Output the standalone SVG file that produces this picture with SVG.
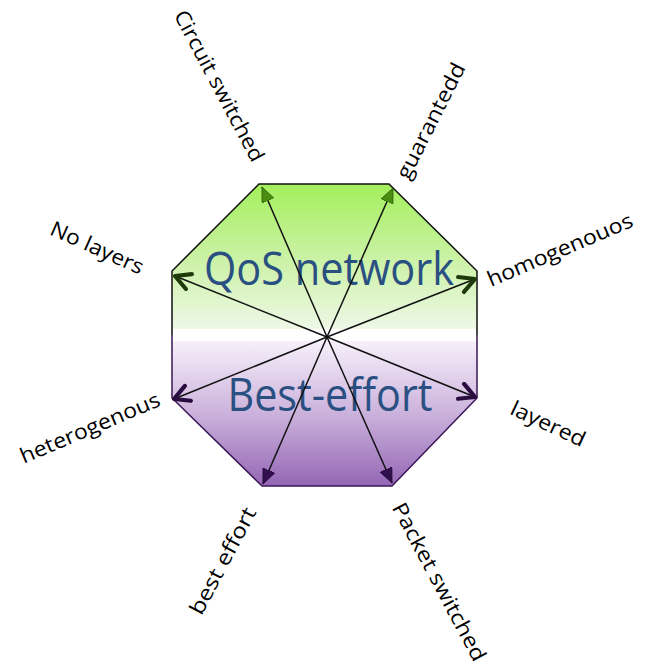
<svg xmlns="http://www.w3.org/2000/svg" width="648" height="666" viewBox="0 0 648 666">
  <style>
    .lbl { font-family: "Open Sans", "Liberation Sans", sans-serif; font-size: 21px; fill: #000; text-anchor: middle; }
    .big { font-family: "Open Sans", "Liberation Sans", sans-serif; font-size: 45px; fill: #2a5082; text-anchor: middle; }
    .ray { stroke: #111; stroke-width: 1.5; fill: none; }
  </style>
  <defs>
    <linearGradient id="gTop" x1="0" y1="184" x2="0" y2="329" gradientUnits="userSpaceOnUse">
      <stop offset="0" stop-color="#a4ef5c"/>
      <stop offset="0.55" stop-color="#cdf2aa"/>
      <stop offset="1" stop-color="#eef8e6"/>
    </linearGradient>
    <linearGradient id="gBot" x1="0" y1="341" x2="0" y2="486" gradientUnits="userSpaceOnUse">
      <stop offset="0" stop-color="#f7f0fa"/>
      <stop offset="0.5" stop-color="#cbb2dc"/>
      <stop offset="1" stop-color="#9466b4"/>
    </linearGradient>
    <marker id="triG" markerUnits="userSpaceOnUse" markerWidth="18" markerHeight="14" refX="15" refY="6.5" orient="auto">
      <path d="M0,0 L15,6.5 L0,13 z" fill="#4a8c12" stroke="#2f5e08" stroke-width="0.8"/>
    </marker>
    <marker id="triP" markerUnits="userSpaceOnUse" markerWidth="18" markerHeight="14" refX="15" refY="6.5" orient="auto">
      <path d="M0,0 L15,6.5 L0,13 z" fill="#32104e" stroke="#220838" stroke-width="0.8"/>
    </marker>
    <marker id="chevG" markerUnits="userSpaceOnUse" markerWidth="22" markerHeight="22" refX="18" refY="10" orient="auto">
      <path d="M3,2 L18,10 L3,18" fill="none" stroke="#1e3a0a" stroke-width="4.2" stroke-linecap="round" stroke-linejoin="round"/>
    </marker>
    <marker id="chevP" markerUnits="userSpaceOnUse" markerWidth="22" markerHeight="22" refX="18" refY="10" orient="auto">
      <path d="M3,2 L18,10 L3,18" fill="none" stroke="#2a0c40" stroke-width="4.2" stroke-linecap="round" stroke-linejoin="round"/>
    </marker>
  </defs>

  <!-- octagon body: green upper half, white band, purple lower half -->
  <g id="octagon">
    <polygon points="259,184 389,184 477,271 477,329 172,329 172,271" fill="url(#gTop)"/>
    <rect x="172" y="329" width="305" height="12" fill="#ffffff"/>
    <polygon points="172,341 477,341 477,398 392,486 262,486 172,398" fill="url(#gBot)"/>
    <path d="M172,335 L172,271 L259,184 L389,184 L477,271 L477,335" fill="none" stroke="#111" stroke-width="1.5"/>
    <path d="M172,335 L172,398 L262,486 L392,486 L477,398 L477,335" fill="none" stroke="#3a1656" stroke-width="1.5"/>
  </g>

  <g id="title-qos"><text class="big" x="329" y="285" textLength="250" lengthAdjust="spacingAndGlyphs">QoS network</text></g>
  <g id="title-be"><text class="big" x="330" y="411" textLength="205" lengthAdjust="spacingAndGlyphs">Best-effort</text></g>

  <!-- rays from the centre -->
  <g id="connectors">
    <line class="ray" x1="327" y1="337" x2="262" y2="187" marker-end="url(#triG)"/>
    <line class="ray" x1="327" y1="337" x2="393" y2="188" marker-end="url(#triG)"/>
    <line class="ray" x1="327" y1="337" x2="175" y2="276" marker-end="url(#chevG)"/>
    <line class="ray" x1="327" y1="337" x2="475" y2="279" marker-end="url(#chevG)"/>
    <line class="ray" x1="327" y1="337" x2="174" y2="399" marker-end="url(#chevP)"/>
    <line class="ray" x1="327" y1="337" x2="475" y2="397" marker-end="url(#chevP)"/>
    <line class="ray" x1="327" y1="337" x2="263" y2="484" marker-end="url(#triP)"/>
    <line class="ray" x1="327" y1="337" x2="392" y2="483" marker-end="url(#triP)"/>
  </g>

  <!-- outer labels -->
  <g id="lbl-circuit"><text class="lbl" transform="translate(219,86) rotate(62)" y="7" textLength="168" lengthAdjust="spacingAndGlyphs">Circuit switched</text></g>
  <g id="lbl-guaranteed"><text class="lbl" transform="translate(431,121) rotate(-63)" y="7" textLength="127" lengthAdjust="spacingAndGlyphs">guarantedd</text></g>
  <g id="lbl-nolayers"><text class="lbl" transform="translate(97,248) rotate(24)" y="7" textLength="100" lengthAdjust="spacingAndGlyphs">No layers</text></g>
  <g id="lbl-homog"><text class="lbl" transform="translate(560,250) rotate(-23)" y="7" textLength="156" lengthAdjust="spacingAndGlyphs">homogenouos</text></g>
  <g id="lbl-heterog"><text class="lbl" transform="translate(90,428) rotate(-23)" y="7" textLength="150" lengthAdjust="spacingAndGlyphs">heterogenous</text></g>
  <g id="lbl-layered"><text class="lbl" transform="translate(548,424) rotate(25)" y="7" textLength="80" lengthAdjust="spacingAndGlyphs">layered</text></g>
  <g id="lbl-besteffort"><text class="lbl" transform="translate(223,561) rotate(-62)" y="7" textLength="118" lengthAdjust="spacingAndGlyphs">best effort</text></g>
  <g id="lbl-packet"><text class="lbl" transform="translate(439,582) rotate(62)" y="7" textLength="176" lengthAdjust="spacingAndGlyphs">Packet switched</text></g>
</svg>
